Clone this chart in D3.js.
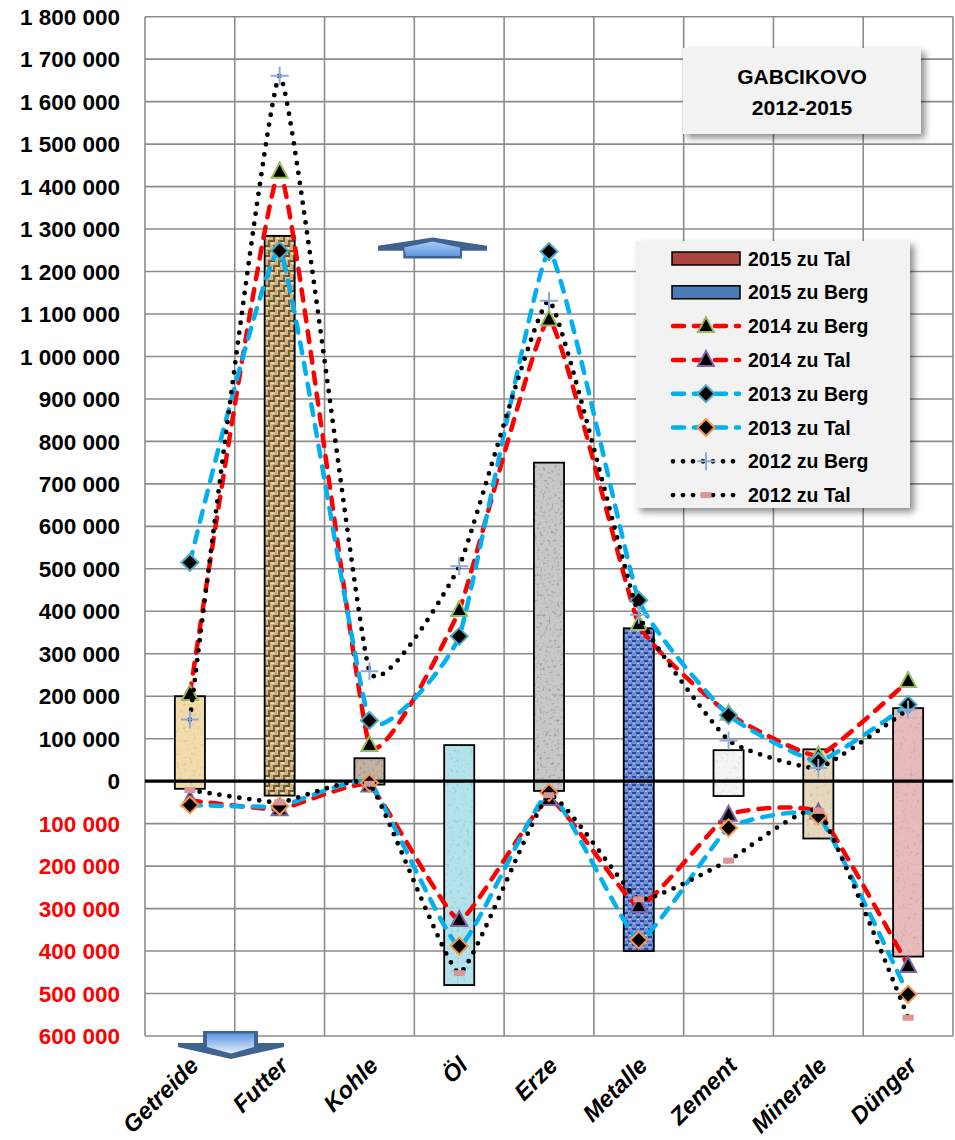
<!DOCTYPE html>
<html>
<head>
<meta charset="utf-8">
<script src="https://cdn.jsdelivr.net/npm/d3@7"></script>
<style>
  body { margin: 0; background: #fff; }
  svg { display: block; font-family: "Liberation Sans", Arial, sans-serif; }
</style>
</head>
<body>
<svg id="chart" width="955" height="1140"></svg>
<script>
// ---------------- data ----------------
const categories = ["Getreide", "Futter", "Kohle", "Öl", "Erze", "Metalle", "Zement", "Minerale", "Dünger"];
const berg2015 = [200000, 1284000, 54000, 85000, 750000, 360000, 73000, 75000, 172000];
const tal2015  = [-18000, -34000, -8000, -480000, -23000, -400000, -35000, -135000, -413000];
const berg2014 = [205000, 1435000, 85000, 403000, 1087000, 370000, 159000, 60000, 236000];
const tal2014  = [-45000, -66000, -10000, -327000, -42000, -294000, -79000, -74000, -435000];
const berg2013 = [515000, 1249000, 143000, 341000, 1247000, 426000, 155000, 47000, 180000];
const tal2013  = [-56000, -59000, -4000, -388000, -27000, -374000, -110000, -82000, -502000];
const berg2012 = [145000, 1661000, 259000, 506000, 1131000, 392000, 96000, 31000, 169000];
const tal2012  = [-21000, -50000, -6000, -452000, -33000, -278000, -187000, -70000, -557000];
const yTicks = [-600000, -500000, -400000, -300000, -200000, -100000, 0, 100000, 200000, 300000, 400000,
  500000, 600000, 700000, 800000, 900000, 1000000, 1100000, 1200000, 1300000, 1400000, 1500000,
  1600000, 1700000, 1800000];
const titleLines = ["GABCIKOVO", "2012-2015"];

// ---------------- styles ----------------
const barFills = ["url(#pGetreide)", "url(#pFutter)", "url(#pKohle)", "url(#pOel)", "url(#pErze)",
  "url(#pMetalle)", "url(#pZement)", "url(#pMinerale)", "url(#pDuenger)"];
const barFilters = ["grainLight", "grainLight", "grainStrong", "grainLight", "grainStrong",
  "grainLight", "grainLight", "grainLight", "grainLight"];

const lineSeries = [
  { name: "2014 zu Berg", data: berg2014, color: "#FF0000", dash: "11,10", cap: "round", width: 4.5, marker: "tri", mstroke: "#9BBB59" },
  { name: "2014 zu Tal", data: tal2014, color: "#FF0000", dash: "11,10", cap: "round", width: 4.5, marker: "tri", mstroke: "#8064A2" },
  { name: "2013 zu Berg", data: berg2013, color: "#00B0F0", dash: "11,10", cap: "round", width: 4.5, marker: "dia", mstroke: "#4BACC6" },
  { name: "2013 zu Tal", data: tal2013, color: "#00B0F0", dash: "11,10", cap: "round", width: 4.5, marker: "dia", mstroke: "#F79646" },
  { name: "2012 zu Berg", data: berg2012, color: "#000000", dash: "0,10", cap: "round", width: 4.8, marker: "plus", mstroke: "#8EA9DB" },
  { name: "2012 zu Tal", data: tal2012, color: "#000000", dash: "0,10", cap: "round", width: 4.8, marker: "dash", mstroke: "#D99694" }
];

// ---------------- setup ----------------
const svg = d3.select("#chart");
const W = 955, H = 1140;
const plot = { left: 145, right: 953, top: 16.7, bottom: 1036 };

const x = d3.scaleBand().domain(categories).range([plot.left, plot.right]).padding(0);
const y = d3.scaleLinear().domain([-600000, 1800000]).range([plot.bottom, plot.top]);
const cx = c => x(c) + x.bandwidth() / 2;

const defs = svg.append("defs");

function grain(id, slope, intercept, freq) {
  const f = defs.append("filter").attr("id", id)
    .attr("x", 0).attr("y", 0).attr("width", "100%").attr("height", "100%");
  f.append("feTurbulence").attr("type", "fractalNoise").attr("baseFrequency", freq)
    .attr("numOctaves", 3).attr("seed", 5).attr("result", "t");
  f.append("feColorMatrix").attr("in", "t").attr("type", "saturate").attr("values", 0).attr("result", "g");
  const ct = f.append("feComponentTransfer").attr("in", "g").attr("result", "g2");
  ["feFuncR", "feFuncG", "feFuncB"].forEach(n => ct.append(n).attr("type", "linear").attr("slope", slope).attr("intercept", intercept));
  ct.append("feFuncA").attr("type", "linear").attr("slope", 0).attr("intercept", 1);
  f.append("feBlend").attr("in", "SourceGraphic").attr("in2", "g2").attr("mode", "multiply").attr("result", "b");
  f.append("feComposite").attr("in", "b").attr("in2", "SourceGraphic").attr("operator", "in");
}
grain("grainLight", 1.0, 0.55, 0.3);
grain("grainStrong", 1.8, 0.15, 0.35);

function solidPattern(id, color) {
  const p = defs.append("pattern").attr("id", id).attr("patternUnits", "userSpaceOnUse")
    .attr("width", 10).attr("height", 10);
  p.append("rect").attr("width", 10).attr("height", 10).attr("fill", color);
  return p;
}
solidPattern("pGetreide", "#F2DCAC");
solidPattern("pKohle", "#C4B3A2");
solidPattern("pOel", "#B2E3EC");
solidPattern("pErze", "#C8C8C8");
solidPattern("pZement", "#F4F4F2");
solidPattern("pMinerale", "#E6D9BE");
solidPattern("pDuenger", "#E8BBBB");
{
  const p = defs.append("pattern").attr("id", "pFutter").attr("patternUnits", "userSpaceOnUse")
    .attr("width", 10).attr("height", 10);
  p.append("rect").attr("width", 10).attr("height", 10).attr("fill", "#CDB585");
  p.append("rect").attr("x", 0).attr("y", 0).attr("width", 5).attr("height", 2).attr("fill", "#705530");
  p.append("rect").attr("x", 5).attr("y", 5).attr("width", 5).attr("height", 2).attr("fill", "#705530");
  p.append("rect").attr("x", 8).attr("y", 0).attr("width", 2).attr("height", 5).attr("fill", "#806238");
  p.append("rect").attr("x", 3).attr("y", 5).attr("width", 2).attr("height", 5).attr("fill", "#806238");
  p.append("rect").attr("x", 1).attr("y", 2.5).attr("width", 3).attr("height", 1.5).attr("fill", "#F0E2B8");
  p.append("rect").attr("x", 6).attr("y", 7.5).attr("width", 3).attr("height", 1.5).attr("fill", "#F0E2B8");
}
{
  const p = defs.append("pattern").attr("id", "pMetalle").attr("patternUnits", "userSpaceOnUse")
    .attr("width", 8).attr("height", 8);
  p.append("rect").attr("width", 8).attr("height", 8).attr("fill", "#6F8FD8");
  p.append("rect").attr("x", 0).attr("y", 0).attr("width", 4).attr("height", 2).attr("fill", "#2E4C98");
  p.append("rect").attr("x", 4).attr("y", 4).attr("width", 4).attr("height", 2).attr("fill", "#2E4C98");
  p.append("rect").attr("x", 1).attr("y", 3).attr("width", 2).attr("height", 1).attr("fill", "#B4C8F2");
  p.append("rect").attr("x", 5).attr("y", 7).attr("width", 2).attr("height", 1).attr("fill", "#B4C8F2");
}

const sh = defs.append("filter").attr("id", "shadow").attr("x", "-10%").attr("y", "-10%").attr("width", "130%").attr("height", "130%");
sh.append("feDropShadow").attr("dx", 4).attr("dy", 4).attr("stdDeviation", 3.5)
  .attr("flood-color", "#000").attr("flood-opacity", 0.45);

const gUp = defs.append("linearGradient").attr("id", "gUp").attr("x1", 0).attr("y1", 0).attr("x2", 0).attr("y2", 1);
gUp.append("stop").attr("offset", "0%").attr("stop-color", "#A9CBF4");
gUp.append("stop").attr("offset", "100%").attr("stop-color", "#5F97E2");
const gDown = defs.append("linearGradient").attr("id", "gDown").attr("x1", 0).attr("y1", 0).attr("x2", 0).attr("y2", 1);
gDown.append("stop").attr("offset", "0%").attr("stop-color", "#5E96E4");
gDown.append("stop").attr("offset", "100%").attr("stop-color", "#E4EFFB");

// ---------------- background & grid ----------------
svg.append("rect").attr("width", W).attr("height", H).attr("fill", "#fff");

const grid = svg.append("g");
grid.selectAll("line.h").data(yTicks.filter(v => v !== 0)).join("line")
  .attr("x1", plot.left).attr("x2", plot.right)
  .attr("y1", d => y(d)).attr("y2", d => y(d))
  .attr("stroke", "#8C8C8C").attr("stroke-width", 1.6);
const bounds = categories.map(c => x(c)).concat([plot.right]);
grid.selectAll("line.v").data(bounds).join("line")
  .attr("x1", d => d).attr("x2", d => d)
  .attr("y1", plot.top).attr("y2", plot.bottom)
  .attr("stroke", "#8C8C8C").attr("stroke-width", 1.6);

svg.append("g").selectAll("text").data(yTicks).join("text")
  .attr("x", 120).attr("y", d => y(d)).attr("dy", "0.36em")
  .attr("text-anchor", "end")
  .attr("font-size", 22.5).attr("font-weight", "bold")
  .attr("fill", d => d < 0 ? "#FF0000" : "#000")
  .text(d => d3.format(",")(Math.abs(d)).replace(/,/g, " "));

svg.append("g").selectAll("text").data(categories).join("text")
  .attr("transform", d => `translate(${cx(d) + 10},${1067}) rotate(-45)`)
  .attr("text-anchor", "end")
  .attr("font-size", 23.5).attr("font-weight", "bold").attr("font-style", "italic")
  .attr("fill", "#000")
  .text(d => d);

// ---------------- bars ----------------
const bw = x.bandwidth() * 0.335;
const barG = svg.append("g");
categories.forEach((c, i) => {
  const parts = [[berg2015[i], 0], [0, tal2015[i]]];
  parts.forEach(([hi, lo]) => {
    barG.append("rect")
      .attr("x", cx(c) - bw / 2).attr("width", bw)
      .attr("y", y(hi)).attr("height", y(lo) - y(hi))
      .attr("fill", barFills[i]).attr("filter", `url(#${barFilters[i]})`);
    barG.append("rect")
      .attr("x", cx(c) - bw / 2).attr("width", bw)
      .attr("y", y(hi)).attr("height", y(lo) - y(hi))
      .attr("fill", "none").attr("stroke", "#000").attr("stroke-width", 1.8);
  });
});

svg.append("line").attr("x1", plot.left).attr("x2", plot.right)
  .attr("y1", y(0)).attr("y2", y(0)).attr("stroke", "#000").attr("stroke-width", 3.2);

// ---------------- lines ----------------
function drawMarker(g, type, stroke) {
  if (type === "tri") {
    g.append("path").attr("d", "M0,-9 L8,6 L-8,6 Z").attr("fill", "#000")
      .attr("stroke", stroke).attr("stroke-width", 2).attr("stroke-linejoin", "miter");
  } else if (type === "dia") {
    g.append("path").attr("d", "M0,-8.5 L8.5,0 L0,8.5 L-8.5,0 Z").attr("fill", "#000")
      .attr("stroke", stroke).attr("stroke-width", 2);
  } else if (type === "plus") {
    g.append("path").attr("d", "M-9,0 H9 M0,-9 V9").attr("fill", "none")
      .attr("stroke", stroke).attr("stroke-width", 2);
  } else if (type === "dash") {
    g.append("rect").attr("x", -5.5).attr("y", -3).attr("width", 11).attr("height", 6)
      .attr("fill", stroke);
  }
}

const lineGen = d3.line().x(d => cx(d.c)).y(d => y(d.v)).curve(d3.curveCardinal.tension(0.62));
const linesG = svg.append("g");
lineSeries.forEach(s => {
  const pts = categories.map((c, i) => ({ c, v: s.data[i] }));
  linesG.append("path").datum(pts).attr("d", lineGen)
    .attr("fill", "none").attr("stroke", s.color).attr("stroke-width", s.width)
    .attr("stroke-dasharray", s.dash).attr("stroke-linecap", s.cap).attr("stroke-linejoin", "round");
  pts.forEach(p => {
    const m = linesG.append("g").attr("transform", `translate(${cx(p.c)},${y(p.v)})`);
    drawMarker(m, s.marker, s.mstroke);
  });
});

// ---------------- title box ----------------
const tb = svg.append("g");
tb.append("rect").attr("x", 683).attr("y", 48).attr("width", 238).attr("height", 86)
  .attr("fill", "#F2F2F2").attr("filter", "url(#shadow)");
tb.selectAll("text").data(titleLines).join("text")
  .attr("x", 802).attr("y", (d, i) => 76 + i * 31).attr("dy", "0.36em")
  .attr("text-anchor", "middle").attr("font-size", 21).attr("font-weight", "bold")
  .text(d => d);

// ---------------- legend ----------------
const lg = svg.append("g");
lg.append("rect").attr("x", 636).attr("y", 241).attr("width", 274).attr("height", 267)
  .attr("fill", "#F2F2F2").attr("filter", "url(#shadow)");
const legendItems = [
  { name: "2015 zu Tal", kind: "bar", fill: "#A9443F" },
  { name: "2015 zu Berg", kind: "bar", fill: "#4A7BB7" }
].concat(lineSeries.map(s => Object.assign({ kind: "line" }, s)));
legendItems.forEach((it, i) => {
  const ry = 258.5 + i * 33.8;
  const g = lg.append("g");
  if (it.kind === "bar") {
    g.append("rect").attr("x", 672).attr("y", ry - 6.5).attr("width", 68).attr("height", 13)
      .attr("fill", it.fill).attr("stroke", "#000").attr("stroke-width", 1.5);
  } else {
    g.append("line").attr("x1", 673).attr("x2", 739).attr("y1", ry).attr("y2", ry)
      .attr("stroke", it.color).attr("stroke-width", it.width)
      .attr("stroke-dasharray", it.dash).attr("stroke-linecap", it.cap);
    const m = g.append("g").attr("transform", `translate(706,${ry})`);
    drawMarker(m, it.marker, it.mstroke);
  }
  g.append("text").attr("x", 748).attr("y", ry).attr("dy", "0.36em")
    .attr("font-size", 19.5).attr("font-weight", "bold").text(it.name);
});

// ---------------- arrows ----------------
const up = svg.append("g");
up.append("polygon").attr("points", "378,245.7 432.7,237.5 487,245.7 487,250.7 462,250.7 462,258.5 403.3,258.5 403.3,250.7 378,250.7")
  .attr("fill", "#3F628F");
up.append("polygon").attr("points", "404,247.5 432.7,241.5 460,247.5 460,256 406,256")
  .attr("fill", "url(#gUp)");

const down = svg.append("g");
down.append("polygon").attr("points", "203,1031 258,1031 258,1043 284,1043 284,1047 231,1059 178,1047 178,1043 203,1043")
  .attr("fill", "#3F628F");
down.append("polygon").attr("points", "207,1033.5 254,1033.5 254,1047 231,1053.5 207,1047")
  .attr("fill", "url(#gDown)");
</script>
</body>
</html>
